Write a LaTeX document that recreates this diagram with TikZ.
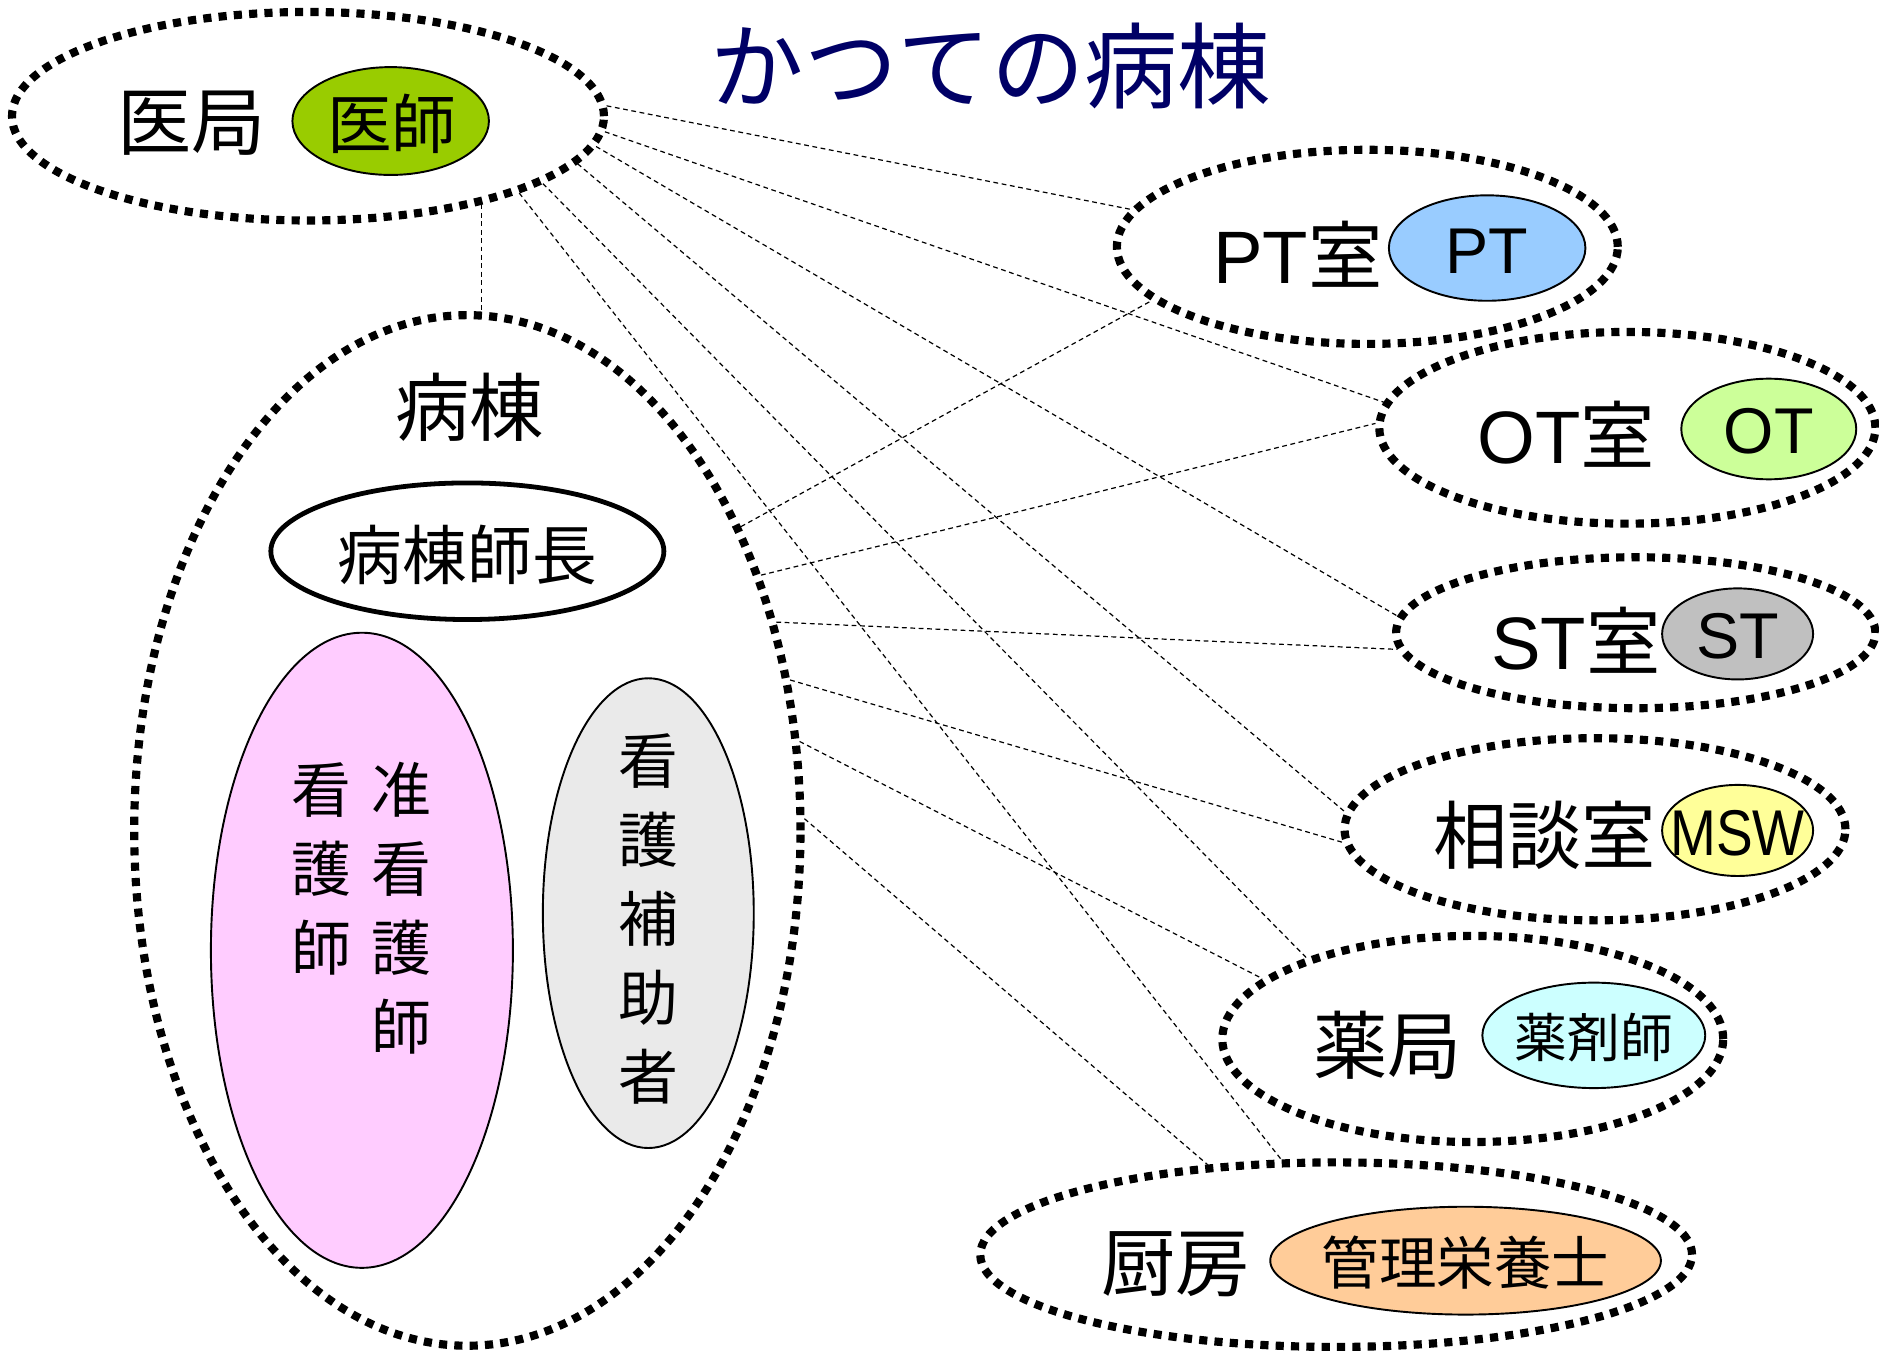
\documentclass[tikz,border=0pt]{standalone}
\usepackage{fontspec}
\setmainfont{Liberation Sans}
\newfontfamily\cjk{Noto Sans CJK JP}
\usetikzlibrary{shapes.geometric}
\definecolor{titleblue}{RGB}{0,0,102}
\definecolor{cIshi}{HTML}{99CC00}
\definecolor{cPT}{HTML}{99CCFF}
\definecolor{cOT}{HTML}{CCFF99}
\definecolor{cST}{HTML}{C0C0C0}
\definecolor{cMSW}{HTML}{FFFF99}
\definecolor{cYaku}{HTML}{CCFFFF}
\definecolor{cEiyo}{HTML}{FFCC99}
\definecolor{cKango}{HTML}{FFCCFF}
\definecolor{cHojo}{HTML}{EAEAEA}
\begin{document}
\begin{tikzpicture}[x=0.5pt,y=-0.5pt,
  room/.style={ellipse, draw, line width=3.4pt, dash pattern=on 3.4pt off 3pt, inner sep=0pt},
  staff/.style={ellipse, draw, line width=0.8pt, inner sep=0pt},
  link/.style={line width=0.5pt, dash pattern=on 2pt off 1.5pt},
  big/.style={inner sep=0pt, font=\cjk\fontsize{31}{31}\selectfont},
  mid/.style={inner sep=0pt, font=\cjk\fontsize{27}{27}\selectfont},
  latbig/.style={inner sep=0pt, font=\fontsize{31}{31}\selectfont},
  latmid/.style={inner sep=0pt, font=\fontsize{27}{27}\selectfont},
  vert/.style={inner sep=0pt, align=center, font=\cjk\fontsize{25}{33}\selectfont}]
\path[use as bounding box] (0,0) rectangle (1568,1127);

% title
\node[inner sep=0pt, text=titleblue, font=\cjk\fontsize{39}{39}\selectfont] (title) at (827,55) {かつての病棟};

% outer rooms
\node[room, minimum width=247pt, minimum height=87pt] (ikyoku) at (257,97) {};
\node[room, minimum width=209pt, minimum height=81pt] (pt) at (1141,206) {};
\node[room, minimum width=207pt, minimum height=80pt] (ot) at (1358,357) {};
\node[room, minimum width=200pt, minimum height=63pt] (st) at (1365,528) {};
\node[room, minimum width=209pt, minimum height=76pt] (soudan) at (1331,692) {};
\node[room, minimum width=209pt, minimum height=86pt] (yakkyoku) at (1229,867) {};
\node[room, minimum width=297pt, minimum height=77pt] (chubo) at (1115,1047) {};
\node[room, minimum width=278pt, minimum height=430pt] (byoto) at (390,693) {};

% staff ellipses
\node[staff, fill=cIshi, minimum width=82pt, minimum height=45pt] (ishi) at (326,101) {};
\node[staff, fill=cPT, minimum width=82pt, minimum height=44pt] (ptin) at (1241,207) {};
\node[staff, fill=cOT, minimum width=73pt, minimum height=42pt] (otin) at (1476,358) {};
\node[staff, fill=cST, minimum width=63pt, minimum height=38pt] (stin) at (1450,529) {};
\node[staff, fill=cMSW, minimum width=63pt, minimum height=38pt] (msw) at (1450,693) {};
\node[staff, fill=cYaku, minimum width=93pt, minimum height=44pt] (yakuzai) at (1330,864) {};
\node[staff, fill=cEiyo, minimum width=163pt, minimum height=45pt] (eiyou) at (1223,1052) {};
\node[staff, line width=2pt, fill=white, minimum width=164pt, minimum height=57pt] (shicho) at (390,460) {};
\node[staff, fill=cKango, minimum width=126pt, minimum height=265pt] (kango) at (302,793) {};
\node[staff, fill=cHojo, minimum width=88pt, minimum height=196pt] (hojo) at (541,762) {};

% labels
\node[big] (ikyokuL) at (160,103) {医局};
\node[mid] (ishiL) at (327,103) {医師};
\node[latbig] (ptL) at (1083,212) {PT{\cjk 室}};
\node[latmid] (ptinL) at (1241,210) {PT};
\node[latbig] (otL) at (1307,362) {OT{\cjk 室}};
\node[latmid] (otinL) at (1476,360) {OT};
\node[latbig] (stL) at (1315,534) {ST{\cjk 室}};
\node[latmid] (stinL) at (1450,531) {ST};
\node[big] (soudanL) at (1289,697) {相談室};
\node[latmid] (mswL) at (1450,695) {\scalebox{0.85}[1]{MSW}};
\node[big] (yakkyokuL) at (1158,872) {薬局};
\node[inner sep=0pt, font=\cjk\fontsize{22}{22}\selectfont] (yakuzaiL) at (1330,866) {薬剤師};
\node[big] (chuboL) at (981,1055) {厨房};
\node[inner sep=0pt, font=\cjk\fontsize{24}{24}\selectfont] (eiyouL) at (1223,1054) {管理栄養士};
\node[big] (byotoL) at (392,340) {病棟};
\node[mid] (shichoL) at (390,463) {病棟師長};
\node[vert] (kangoL) at (268,725) {看\\護\\師};
\node[vert] (junL) at (335,758) {准\\看\\護\\師};
\node[vert] (hojoL) at (541,767) {看\\護\\補\\助\\者};

% connectors
\draw[link] (ikyoku.-27.3) -- (ikyoku.-27.3 |- byoto.north);
\draw[link] (ikyoku.2.3) -- (pt.171);
\draw[link] (ikyoku.-3.5) -- (ot.174.7);
\draw[link] (ikyoku.-6.8) -- (st.176.2);
\draw[link] (ikyoku.-10.2) -- (soudan.176.7);
\draw[link] (ikyoku.-16) -- (yakkyoku.154);
\draw[link] (ikyoku.-20.5) -- (chubo.120);
\draw[link] (byoto.48.1) -- (pt.194.4);
\draw[link] (byoto.41.4) -- (ot.179.4);
\draw[link] (byoto.34.7) -- (st.184);
\draw[link] (byoto.25.5) -- (soudan.183);
\draw[link] (byoto.15.5) -- (yakkyoku.164);
\draw[link] (byoto.2.8) -- (chubo.145.7);
\end{tikzpicture}
\end{document}
